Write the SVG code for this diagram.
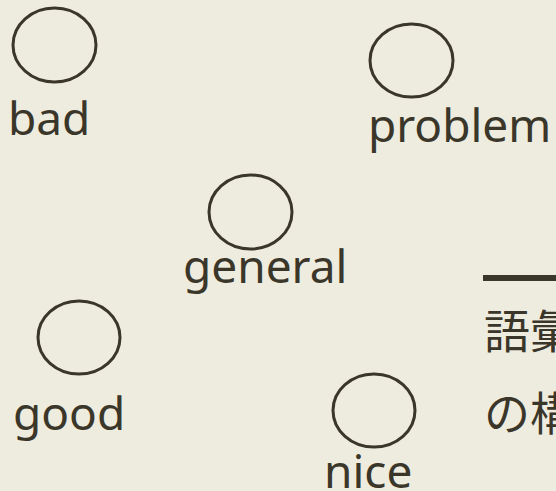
<svg xmlns="http://www.w3.org/2000/svg" width="556" height="491" viewBox="0 0 556 491">
<style>
.node ellipse{fill:none;stroke:#3a3629;stroke-width:3}
.lbl{font-family:"Noto Sans","Liberation Sans",sans-serif;font-size:46px;fill:#3a3629}
.jp{font-family:"Noto Sans CJK JP","Noto Sans",sans-serif;font-size:46px;fill:#3a3629}
</style>
<rect width="556" height="491" fill="#eeebdf"/>
<g id="bad" class="node"><ellipse cx="54.5" cy="45" rx="41.5" ry="37"/><text class="lbl" x="8" y="135">bad</text></g>
<g id="problem" class="node"><ellipse cx="411.5" cy="60.5" rx="41.5" ry="36.5"/><text class="lbl" x="368" y="142">problem</text></g>
<g id="general" class="node"><ellipse cx="250.5" cy="212" rx="41.5" ry="37"/><text class="lbl" x="183" y="283">general</text></g>
<g id="good" class="node"><ellipse cx="79" cy="337.5" rx="41" ry="36.5"/><text class="lbl" x="13" y="430">good</text></g>
<g id="nice" class="node"><ellipse cx="374" cy="410.5" rx="41" ry="36.5"/><text class="lbl" x="324" y="488">nice</text></g>
<g id="connectors"></g>
<g id="legend">
<line x1="483" y1="278" x2="556" y2="278" stroke="#3a3629" stroke-width="6"/>
<text class="jp" x="484" y="348">語彙</text>
<text class="jp" x="484" y="430">の構</text>
</g>
</svg>
